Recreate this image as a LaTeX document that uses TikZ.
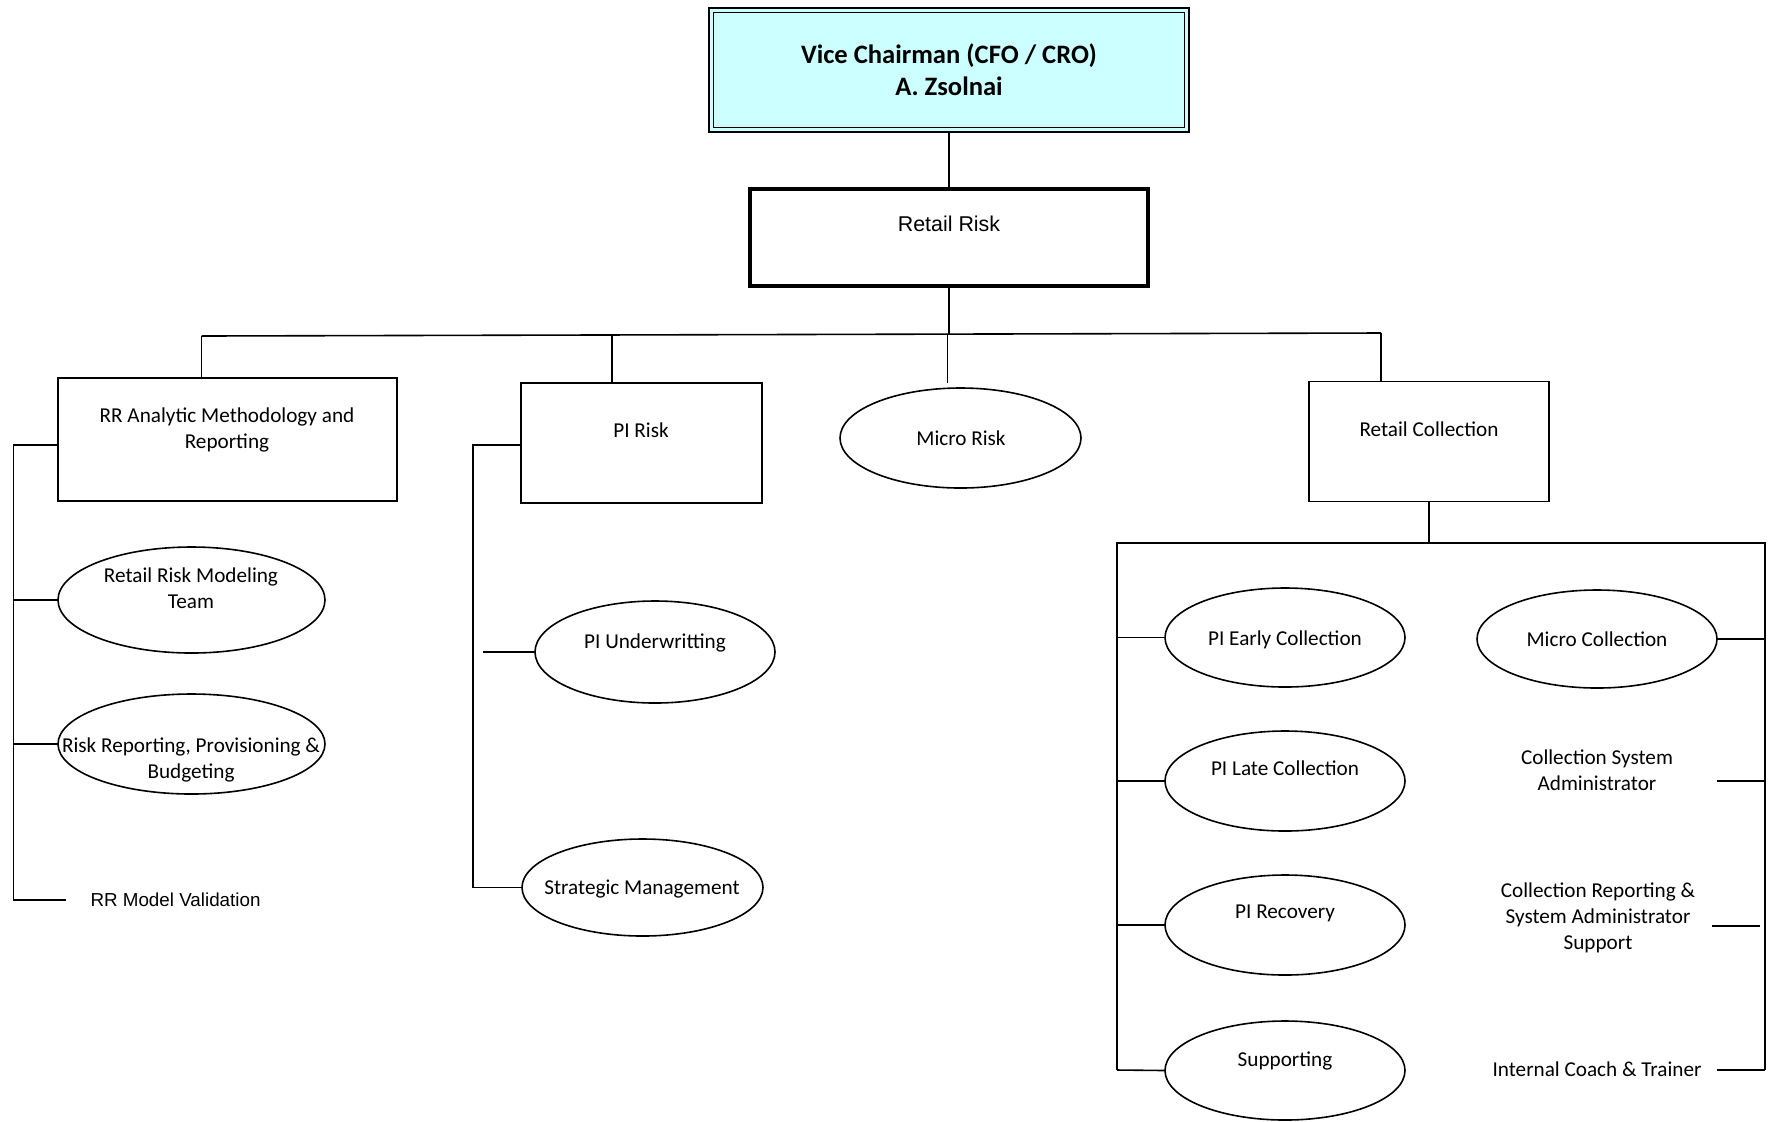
\documentclass[tikz,border=0pt]{standalone}
\usepackage{fontspec}
\setmainfont{Carlito}
\newfontfamily\arialf{Liberation Sans}
\usetikzlibrary{shapes.geometric}
\definecolor{vcfill}{HTML}{CCFFFF}
\begin{document}
\begin{tikzpicture}[x=0.5pt,y=-0.5pt,
  every node/.style={inner sep=0pt, outer sep=0pt},
  conn/.style={draw=black, line width=0.8pt},
  boxnode/.style={draw=black, line width=0.8pt, rectangle, fill=white},
  ovalnode/.style={draw=black, line width=0.8pt, ellipse, fill=white, minimum width=120pt},
  lbl/.style={font=\fontsize{10.6}{13}\selectfont, align=center},
  albl/.style={font=\arialf\fontsize{10.7}{13}\selectfont, align=center}
  ]
\useasboundingbox (0,0) rectangle (1775,1121);

% top
\node[boxnode, fill=vcfill, minimum width=240pt, minimum height=62pt,
  font=\fontsize{13.3}{15.8}\selectfont\bfseries, align=center] (vc) at (949,70)
  {Vice Chairman (CFO / CRO)\\A. Zsolnai};
\draw[line width=0.8pt] ([shift={(2.2pt,-2.2pt)}]vc.north west) rectangle ([shift={(-2.2pt,2.2pt)}]vc.south east);

\node[boxnode, line width=1.75pt, minimum width=199pt, minimum height=48.5pt] (rr) at (949,237.5) {};
\node[albl] (rrt) at (949,224) {Retail Risk};

% level 2
\node[boxnode, minimum width=169.5pt, minimum height=61.5pt] (rra) at (227.5,439.5) {};
\node[lbl] (rrat) at (227,429.5) {RR Analytic Methodology and\\Reporting};

\node[boxnode, minimum width=120.5pt, minimum height=60pt] (pir) at (641.5,443) {};
\node[lbl] (pirt) at (641,430) {PI Risk};

\node[ovalnode, minimum width=120.5pt, minimum height=50pt] (mr) at (960.5,438) {};
\node[lbl] (mrt) at (961,438) {Micro Risk};

\node[boxnode, minimum width=120pt, minimum height=60pt] (rc) at (1429,441.5) {};
\node[lbl] (rct) at (1429,429) {Retail Collection};

% left branch
\node[ovalnode, minimum width=133.5pt, minimum height=53pt] (rrm) at (191.5,600) {};
\node[lbl] (rrmt) at (191,588) {Retail Risk Modeling\\Team};
\node[ovalnode, minimum width=133.5pt, minimum height=50pt] (rrp) at (191.5,744) {};
\node[lbl] (rrpt) at (191,759.5) {Risk Reporting, Provisioning \&\\Budgeting};
\node[font=\arialf\fontsize{9.4}{12}\selectfont] (rmv) at (175.5,900) {RR Model Validation};

% PI branch
\node[ovalnode, minimum width=120pt, minimum height=51pt] (piu) at (655,652) {};
\node[lbl] (piut) at (655,642.5) {PI Underwritting};
\node[ovalnode, minimum width=120.5pt, minimum height=48.5pt] (sm) at (642.5,887.5) {};
\node[lbl] (smt) at (642,889.5) {Strategic Management};

% collection branch
\node[ovalnode, minimum height=49.5pt] (pie) at (1285,637.5) {};
\node[lbl] (piet) at (1285,639.5) {PI Early Collection};
\node[ovalnode, minimum height=50pt] (pil) at (1285,781) {};
\node[lbl] (pilt) at (1285,768.5) {PI Late Collection};
\node[ovalnode, minimum height=50pt] (pirc) at (1285,925) {};
\node[lbl] (pirct) at (1285,913.5) {PI Recovery};
\node[ovalnode, minimum height=49.5pt] (sup) at (1285,1070.5) {};
\node[lbl] (supt) at (1285,1060.5) {Supporting};

\node[ovalnode, minimum height=49pt] (mc) at (1597,639) {};
\node[lbl] (mct) at (1597,639) {Micro Collection};
\node[lbl] (csa) at (1597,770) {Collection System\\Administrator};
\node[lbl] (crs) at (1598,917.5) {Collection Reporting \&\\System Administrator\\Support};
\node[lbl] (ict) at (1597,1069) {Internal Coach \& Trainer};

% connectors: top
\coordinate (busL) at (201.5,336);
\coordinate (busP) at (612,335.2);
\coordinate (busM) at (947.5,334.3);
\coordinate (busR) at (1381,333);
\coordinate (mrend) at (947.5,383);
\draw[conn] (vc.south) -- (rr.north);
\draw[conn] (rr.south) -- (rr.south |- busM);
\draw[conn] (busL) -- (busR);
\draw[conn] (busL) -- (busL |- rra.north);
\draw[conn] (busP) -- (busP |- pir.north);
\draw[conn] (busM) -- (mrend);
\draw[conn] (busR) -- (busR |- rc.north);

% connectors: left tree
\coordinate (lt) at (13.6,445);
\coordinate (lb) at (13.6,900);
\coordinate (rmvEnd) at (65.7,900);
\draw[conn] (rra.west |- lt) -- (lt) -- (lb) -- (rmvEnd);
\draw[conn] (lt |- rrm.west) -- (rrm.west);
\draw[conn] (lt |- rrp.west) -- (rrp.west);

% connectors: PI tree
\coordinate (pt) at (473,445);
\coordinate (pb) at (473,887.5);
\coordinate (piuStub) at (483,652);
\draw[conn] (pir.west |- pt) -- (pt) -- (pb) -- (sm.west);
\draw[conn] (piuStub) -- (piu.west);

% connectors: collection frame
\coordinate (cfL) at (1117,543);
\coordinate (cfM) at (1429,543);
\coordinate (cfR) at (1765,543);
\coordinate (cfLB) at (1117,1070);
\coordinate (cfRB) at (1765,1070);
\draw[conn] (rc.south) -- (cfM);
\draw[conn] (cfLB) -- (cfL) -- (cfR) -- (cfRB);
\draw[conn] (cfL |- pie.west) -- (pie.west);
\draw[conn] (cfL |- pil.west) -- (pil.west);
\draw[conn] (cfL |- pirc.west) -- (pirc.west);
\draw[conn] (cfLB) -- (sup.west);
\draw[conn] (mc.east) -- (mc.east -| cfR);
\coordinate (csaS) at (1717,781);
\draw[conn] (csaS) -- (csaS -| cfR);
\coordinate (crsA) at (1711.5,926);
\coordinate (crsB) at (1760,926);
\draw[conn] (crsA) -- (crsB);
\coordinate (ictS) at (1717,1070);
\draw[conn] (ictS) -- (cfRB);
\end{tikzpicture}
\end{document}
